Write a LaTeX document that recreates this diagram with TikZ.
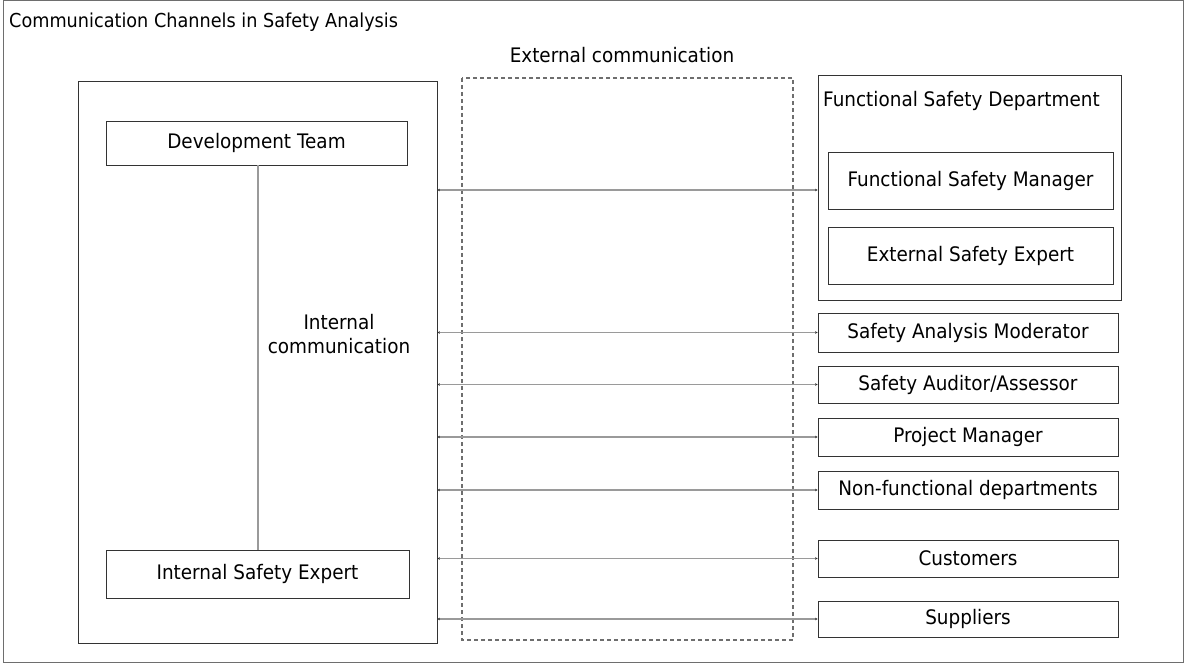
\documentclass[tikz,border=0pt]{standalone}
\usepackage{fontspec}
\setmainfont{DejaVu Sans}[FakeStretch=0.92]
\usetikzlibrary{arrows.meta}
\definecolor{edgecol}{HTML}{333333}
\definecolor{linecol}{HTML}{9A9A9A}
\definecolor{framecol}{HTML}{6E6E6E}
\tikzset{
  box/.style={draw=edgecol, line width=0.9pt, fill=white, inner sep=0pt, font=\fontsize{20}{23}\selectfont},
  conn/.style={draw=linecol, line width=1.1pt, {Stealth[length=2.5pt,width=2.5pt,color=edgecol]}-{Stealth[length=2.5pt,width=2.5pt,color=edgecol]}},
  plain/.style={draw=linecol, line width=1.1pt},
  lbl/.style={font=\fontsize{20}{24}\selectfont, inner sep=0pt, align=center}
}
\newcommand{\bx}[6]{\node[box, minimum width={(#4-#2)*1pt}, minimum height={(#5-#3)*1pt}] (#1) at ({(#2+#4)/2},{(#3+#5)/2}) {#6};}
\begin{document}
\begin{tikzpicture}[x=1pt,y=-1pt]
\useasboundingbox (0,0) rectangle (1186,663);
% outer frame
\node[draw=framecol, line width=1pt, minimum width=1180pt, minimum height=661pt, inner sep=0pt] (frame) at (593,331.5) {};
\node[lbl, anchor=west, font=\fontsize{19.2}{23}\selectfont] (title) at (9,22) {Communication Channels in Safety Analysis};
% left container
\bx{left}{78}{81}{437}{643}{}
\bx{dev}{106}{121}{407}{165}{Development Team}
\bx{ise}{106}{550}{409}{598}{Internal Safety Expert}
\draw[plain] (dev.south -| 258,0) -- (ise.north -| 258,0);
\node[lbl] (internal) at (339,334) {Internal\\communication};
% external dashed
\draw[draw=framecol, line width=1.1pt, dash pattern=on 4pt off 3pt] (462,78) rectangle (793,640);
\node[lbl] (external) at (622,55) {External communication};
% functional safety department
\bx{fsd}{818}{75}{1121}{300}{}
\node[lbl, anchor=west] (fsdt) at (823,101) {Functional Safety Department};
\bx{fsm}{828}{152}{1113}{209}{Functional Safety Manager}
\bx{ese}{828}{227}{1113}{284}{External Safety Expert}
% other roles
\bx{mod}{818}{313}{1118}{352}{Safety Analysis Moderator}
\bx{aud}{818}{366}{1118}{403}{Safety Auditor/Assessor}
\bx{pm}{818}{418}{1118}{456}{Project Manager}
\bx{nfd}{818}{471}{1118}{509}{Non-functional departments}
\bx{cus}{818}{540}{1118}{577}{Customers}
\bx{sup}{818}{601}{1118}{637}{Suppliers}
% connectors
\draw[conn] (left.east |- 0,190) -- (fsd.west |- 0,190);
\foreach \n in {mod,aud,pm,nfd,cus,sup}{
  \draw[conn] (left.east |- \n.west) -- (\n.west);
}
\end{tikzpicture}
\end{document}
